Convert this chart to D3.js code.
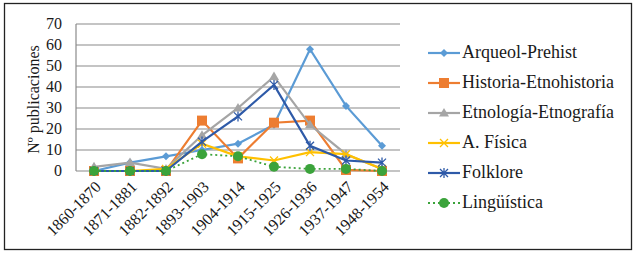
<!DOCTYPE html>
<html>
<head>
<meta charset="utf-8">
<script src="https://cdn.jsdelivr.net/npm/d3@7"></script>
</head>
<body style="margin:0">
<script>
// Données
const periodes = ["1860-1870", "1871-1881", "1882-1892", "1893-1903", "1904-1914",
                  "1915-1925", "1926-1936", "1937-1947", "1948-1954"];
const yTicks = [0, 10, 20, 30, 40, 50, 60, 70];

const arqueol   = [0, 4, 7, 10, 13, 22, 58, 31, 12];
const historia  = [0, 0, 0, 24, 6, 23, 24, 0.5, 0];
const etnologia = [2, 4, 1, 17, 30, 45, 22, 8, 1];
const fisica    = [0, 0, 1, 13, 7, 5, 9, 8, 1];
const folklore  = [0, 0, 0, 14, 26, 41, 12, 5, 4];
const linguist  = [0, 0, 0, 8, 7, 2, 1, 1, 0];

const series = [
    { nom: "Arqueol-Prehist", valeurs: arqueol, couleur: "#5b9bd5", marque: "diamond" },
    { nom: "Historia-Etnohistoria", valeurs: historia, couleur: "#ed7d31", marque: "square" },
    { nom: "Etnología-Etnografía", valeurs: etnologia, couleur: "#a5a5a5", marque: "triangle" },
    { nom: "A. Física", valeurs: fisica, couleur: "#ffc000", marque: "x" },
    { nom: "Folklore", valeurs: folklore, couleur: "#2e5aa8", marque: "asterisk" },
    { nom: "Lingüística", valeurs: linguist, couleur: "#3ba33b", marque: "circle", pointille: true }
];

const W = 638, H = 255;
const plot = { left: 76, right: 400, top: 24, bottom: 171 };
const police = "'Liberation Serif', 'Times New Roman'";

const svg = d3.select("body").append("svg")
    .attr("width", W)
    .attr("height", H);

// Cadre
svg.append("rect")
    .attr("x", 4.5).attr("y", 3.5)
    .attr("width", 627).attr("height", 246)
    .attr("fill", "none")
    .attr("stroke", "#222")
    .attr("stroke-width", 1.3);

// Échelles
const x = d3.scalePoint()
    .domain(periodes)
    .range([plot.left, plot.right])
    .padding(0.5);

const y = d3.scaleLinear()
    .domain([0, 70])
    .range([plot.bottom, plot.top]);

// Grille
svg.append("g")
    .selectAll("line")
    .data(yTicks)
    .enter()
    .append("line")
    .attr("x1", plot.left).attr("x2", plot.right)
    .attr("y1", d => y(d)).attr("y2", d => y(d))
    .attr("stroke", "#8a8a8a")
    .attr("stroke-width", 1.2);

// Axe vertical
svg.append("line")
    .attr("x1", plot.left).attr("x2", plot.left)
    .attr("y1", y(70)).attr("y2", y(0))
    .attr("stroke", "#8a8a8a")
    .attr("stroke-width", 1.2);

// Labels Y
svg.append("g")
    .selectAll("text")
    .data(yTicks)
    .enter()
    .append("text")
    .style("font-family", police)
    .style("font-size", "16px")
    .attr("x", plot.left - 14)
    .attr("y", d => y(d) + 5)
    .attr("text-anchor", "end")
    .attr("fill", "#1a1a1a")
    .text(d => d);

// Titre axe Y
svg.append("text")
    .style("font-family", police)
    .style("font-size", "16px")
    .attr("transform", `translate(39,${(plot.top + plot.bottom) / 2 + 2}) rotate(-90)`)
    .attr("text-anchor", "middle")
    .attr("fill", "#1a1a1a")
    .text("Nº publicaciones");

// Labels X
svg.append("g")
    .selectAll("text")
    .data(periodes)
    .enter()
    .append("text")
    .style("font-family", police)
    .style("font-size", "16px")
    .attr("transform", d => `translate(${x(d) + 4},${plot.bottom + 13}) rotate(-45)`)
    .attr("text-anchor", "end")
    .attr("dy", "0.35em")
    .attr("fill", "#1a1a1a")
    .text(d => d);

// Marqueurs
function dessinerMarque(g, type, couleur) {
    if (type === "diamond") {
        g.append("path").attr("d", "M0,-4L4,0L0,4L-4,0Z").attr("fill", couleur);
    } else if (type === "square") {
        g.append("rect").attr("x", -5).attr("y", -5).attr("width", 10).attr("height", 10).attr("fill", couleur);
    } else if (type === "triangle") {
        g.append("path").attr("d", "M0,-5L5,3.5L-5,3.5Z").attr("fill", couleur);
    } else if (type === "x") {
        g.append("path").attr("d", "M-4,-4L4,4M-4,4L4,-4").attr("stroke", couleur).attr("stroke-width", 1.3);
    } else if (type === "asterisk") {
        g.append("path").attr("d", "M-4,-4L4,4M-4,4L4,-4M0,-5L0,5").attr("stroke", couleur).attr("stroke-width", 1.3);
    } else if (type === "circle") {
        g.append("circle").attr("r", 5).attr("fill", couleur);
    }
}

const ligne = d3.line()
    .x((d, i) => x(periodes[i]))
    .y(d => y(d));

// Lignes
series.forEach(s => {
    const g = svg.append("g");
    g.append("path")
        .datum(s.valeurs)
        .attr("d", ligne)
        .attr("fill", "none")
        .attr("stroke", s.couleur)
        .attr("stroke-width", s.pointille ? 1.8 : 2.2)
        .attr("stroke-dasharray", s.pointille ? "2,3" : null);
    s.valeurs.forEach((v, i) => {
        const m = g.append("g").attr("transform", `translate(${x(periodes[i])},${y(v)})`);
        dessinerMarque(m, s.marque, s.couleur);
    });
});

// Légende
const legende = svg.append("g").attr("transform", "translate(428,53)");
series.forEach((s, i) => {
    const item = legende.append("g").attr("transform", `translate(0,${i * 30})`);
    item.append("line")
        .attr("x1", 0).attr("x2", 32)
        .attr("y1", 0).attr("y2", 0)
        .attr("stroke", s.couleur)
        .attr("stroke-width", s.pointille ? 1.8 : 2.2)
        .attr("stroke-dasharray", s.pointille ? "2,3" : null);
    dessinerMarque(item.append("g").attr("transform", "translate(16,0)"), s.marque, s.couleur);
    item.append("text")
        .style("font-family", police)
        .style("font-size", "18px")
        .attr("x", 34)
        .attr("y", 5)
        .attr("fill", "#1a1a1a")
        .text(s.nom);
});
</script>
</body>
</html>
